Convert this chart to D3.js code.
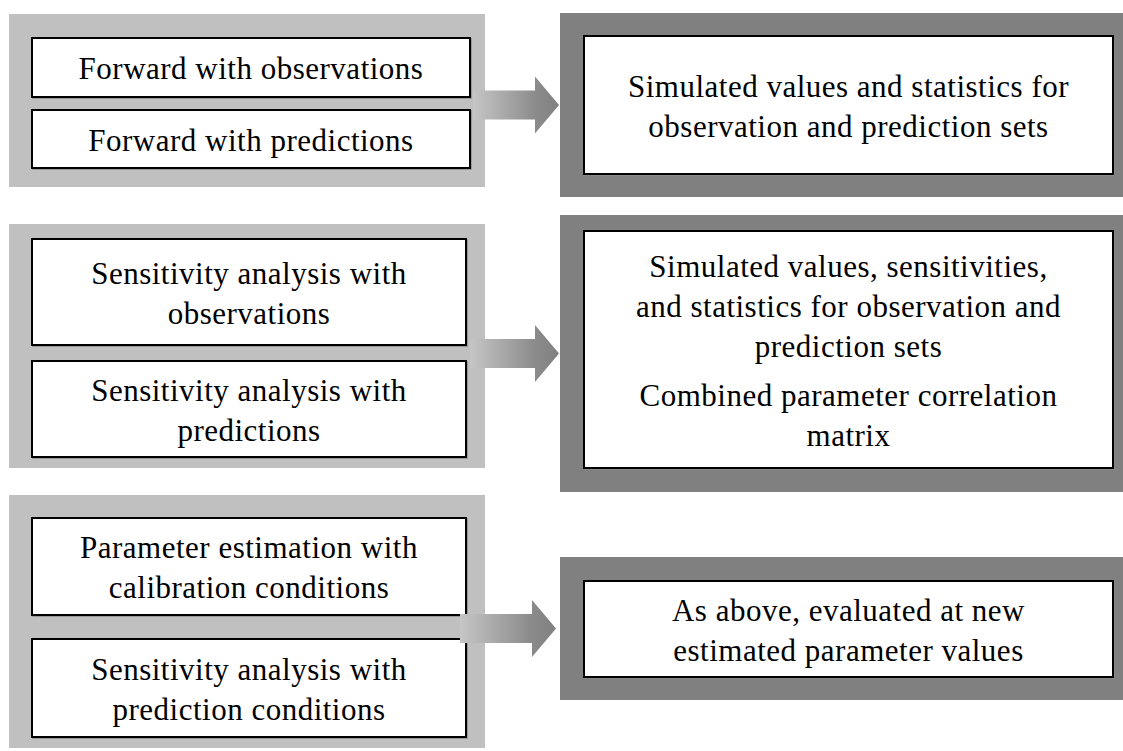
<!DOCTYPE html>
<html>
<head>
<meta charset="utf-8">
<script src="https://cdn.jsdelivr.net/npm/d3@7"></script>
<style>
  body { margin: 0; background: #fff; }
  svg text { font-family: "Liberation Serif", "DejaVu Serif", serif; fill: #000; letter-spacing: 0.5px; }
</style>
</head>
<body>
<div class="chart"></div>
<script>
// Left column: two run types per row, each given as its lines of text
const inputBoxes = [
    [["Forward with observations"], ["Forward with predictions"]],
    [["Sensitivity analysis with", "observations"], ["Sensitivity analysis with", "predictions"]],
    [["Parameter estimation with", "calibration conditions"], ["Sensitivity analysis with", "prediction conditions"]]
];

// Right column: output of each row, as paragraphs of lines
const outputBoxes = [
    [["Simulated values and statistics for", "observation and prediction sets"]],
    [["Simulated values, sensitivities,", "and statistics for observation and", "prediction sets"],
     ["Combined parameter correlation", "matrix"]],
    [["As above, evaluated at new", "estimated parameter values"]]
];

// Where each row sits on the page (pixels)
const rowLayout = [
    { panel: [14, 187], boxes: [[38, 97], [110, 168]], boxRight: 470, outer: [13, 197], inner: [36, 174], shaftX: 473, headX: 535, tipX: 559 },
    { panel: [224, 468], boxes: [[239, 345], [361, 457]], boxRight: 466, outer: [215, 492], inner: [231, 468], shaftX: 470, headX: 535, tipX: 559 },
    { panel: [495, 748], boxes: [[518, 615], [639, 737]], boxRight: 466, outer: [557, 700], inner: [581, 677], shaftX: 460, headX: 532, tipX: 556 }
];

const width = 1123, height = 751;
const fontSize = 31, lineH = 40, paraGap = 9;

const svg = d3.select(".chart")
    .append("svg")
    .attr("width", width)
    .attr("height", height);

const defs = svg.append("defs");

// light panels on the left
svg.selectAll("rect.panel")
    .data(rowLayout)
    .enter()
    .append("rect")
        .attr("class", "panel")
        .attr("x", 9)
        .attr("y", d => d.panel[0])
        .attr("width", 485 - 9)
        .attr("height", d => d.panel[1] - d.panel[0])
        .attr("fill", "#c0c0c0");

// dark panels on the right
svg.selectAll("rect.outer")
    .data(rowLayout)
    .enter()
    .append("rect")
        .attr("class", "outer")
        .attr("x", 560)
        .attr("y", d => d.outer[0])
        .attr("width", width - 560)
        .attr("height", d => d.outer[1] - d.outer[0])
        .attr("fill", "#808080");

// draws a white box with centered lines of text, paragraphs split by a small gap
function textBox(g, x0, x1, y0, y1, paragraphs) {
    g.append("rect")
        .attr("x", x0 + 1).attr("y", y0 + 1)
        .attr("width", x1 - x0).attr("height", y1 - y0)
        .attr("fill", "none").attr("stroke", "#8a8a8a").attr("stroke-width", 1.5);
    g.append("rect")
        .attr("x", x0).attr("y", y0)
        .attr("width", x1 - x0).attr("height", y1 - y0)
        .attr("fill", "#fff").attr("stroke", "#000").attr("stroke-width", 2);

    const lines = [];
    let offset = 0;
    paragraphs.forEach((p, pi) => {
        if (pi > 0) offset += paraGap;
        p.forEach(t => { lines.push({ t, off: offset }); offset += lineH; });
    });
    const top = (y0 + y1) / 2 - offset / 2 + 1;
    g.selectAll("text")
        .data(lines)
        .enter()
        .append("text")
            .attr("x", (x0 + x1) / 2)
            .attr("y", d => top + d.off + lineH / 2)
            .attr("dy", "0.35em")
            .attr("text-anchor", "middle")
            .attr("font-size", fontSize)
            .text(d => d.t);
}

// arrows, shaded from light to dark
rowLayout.forEach((r, i) => {
    const cy = (r.outer[0] + r.outer[1]) / 2;
    const grad = defs.append("linearGradient")
        .attr("id", "arrowGrad" + i)
        .attr("gradientUnits", "userSpaceOnUse")
        .attr("x1", r.shaftX).attr("x2", r.tipX)
        .attr("y1", 0).attr("y2", 0);
    grad.append("stop").attr("offset", 0).attr("stop-color", "#c6c6c6");
    grad.append("stop").attr("offset", 0.72).attr("stop-color", "#8c8c8c");
    grad.append("stop").attr("offset", 1).attr("stop-color", "#808080");

    const pts = [
        [r.shaftX, cy - 14.5], [r.headX, cy - 14.5], [r.headX, cy - 28.5], [r.tipX, cy],
        [r.headX, cy + 28.5], [r.headX, cy + 14.5], [r.shaftX, cy + 14.5]
    ];
    r.arrowPath = d3.line()(pts) + "Z";
    r.arrowId = "arrowGrad" + i;
});

rowLayout.forEach((r, i) => {
    const g = svg.append("g").attr("class", "row");
    // rows 1 and 2: arrow sits under the left boxes; row 3: on top
    if (i < 2) g.append("path").attr("d", r.arrowPath).attr("fill", `url(#${r.arrowId})`);
    inputBoxes[i].forEach((lines, j) => {
        textBox(g.append("g"), 32, r.boxRight, r.boxes[j][0], r.boxes[j][1], [lines]);
    });
    if (i === 2) g.append("path").attr("d", r.arrowPath).attr("fill", `url(#${r.arrowId})`);
    textBox(g.append("g"), 584, 1113, r.inner[0], r.inner[1], outputBoxes[i]);
});
</script>
</body>
</html>
